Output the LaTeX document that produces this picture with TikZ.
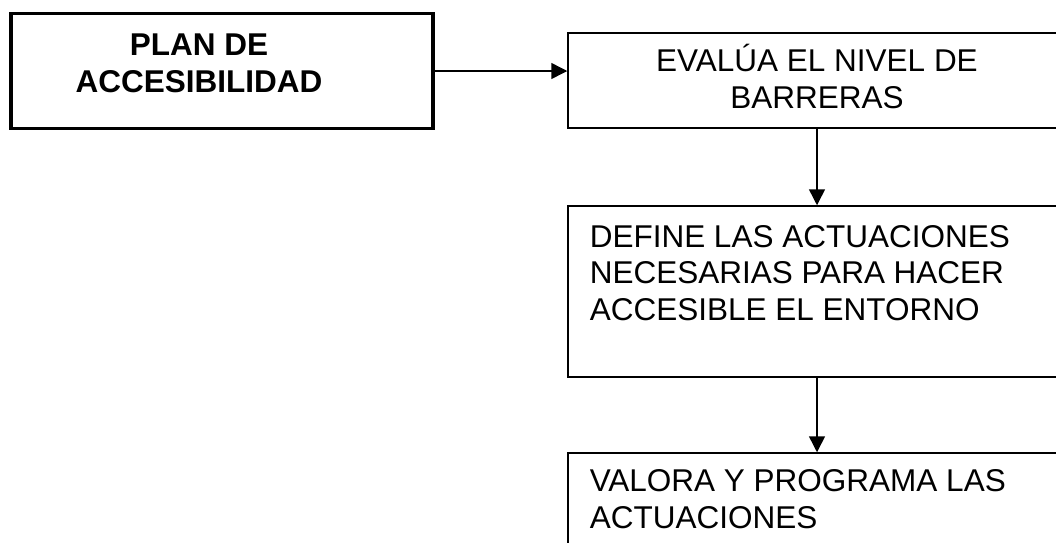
\documentclass[tikz,border=0pt]{standalone}
\usepackage{fontspec}
\setmainfont{Liberation Sans}
\usetikzlibrary{arrows.meta,positioning}
\tikzset{
  box/.style={draw,line width=1.5pt,rectangle,inner sep=0pt},
  planbox/.style={draw,line width=3.5pt,rectangle,inner sep=0pt},
  txt/.style={inner sep=0pt,font=\fontsize{31.5pt}{36.5pt}\selectfont},
}
\begin{document}
\begin{tikzpicture}[x=1pt,y=-1pt,>={Triangle[length=16pt,width=16pt]},line width=1.5pt]
  \useasboundingbox (0,0) rectangle (1056,542);
  \clip (0,0) rectangle (1056,542);
  % boxes
  \node[planbox,minimum width=422pt,minimum height=115pt] (plan) at (222,71) {};
  \node[box,minimum width=498pt,minimum height=95pt] (evalua) at (817,80.5) {};
  \node[box,minimum width=498pt,minimum height=171pt] (define) at (817,291.5) {};
  \node[box,minimum width=498pt,minimum height=120pt] (valora) at (817,513) {};
  % texts (base = last line)
  \node[txt,align=center,anchor=base,font=\fontsize{31.5pt}{37pt}\selectfont\bfseries]
      (plantxt) at (199,92) {PLAN DE\\ACCESIBILIDAD};
  \node[txt,align=center,anchor=base] (evaluatxt) at (817,108) {EVALÚA EL NIVEL DE\\BARRERAS};
  \node[txt,align=left,anchor=base west] (definetxt) at (589,320)
      {DEFINE LAS ACTUACIONES\\NECESARIAS PARA HACER\\ACCESIBLE EL ENTORNO};
  \node[txt,align=left,anchor=base west] (valoratxt) at (589,528)
      {VALORA Y PROGRAMA LAS\\ACTUACIONES};
  % arrows
  \draw[->] (plan.east) -- (plan.east -| evalua.west);
  \draw[->] (evalua.south) -- (define.north);
  \draw[->] (define.south) -- (valora.north);
\end{tikzpicture}
\end{document}
